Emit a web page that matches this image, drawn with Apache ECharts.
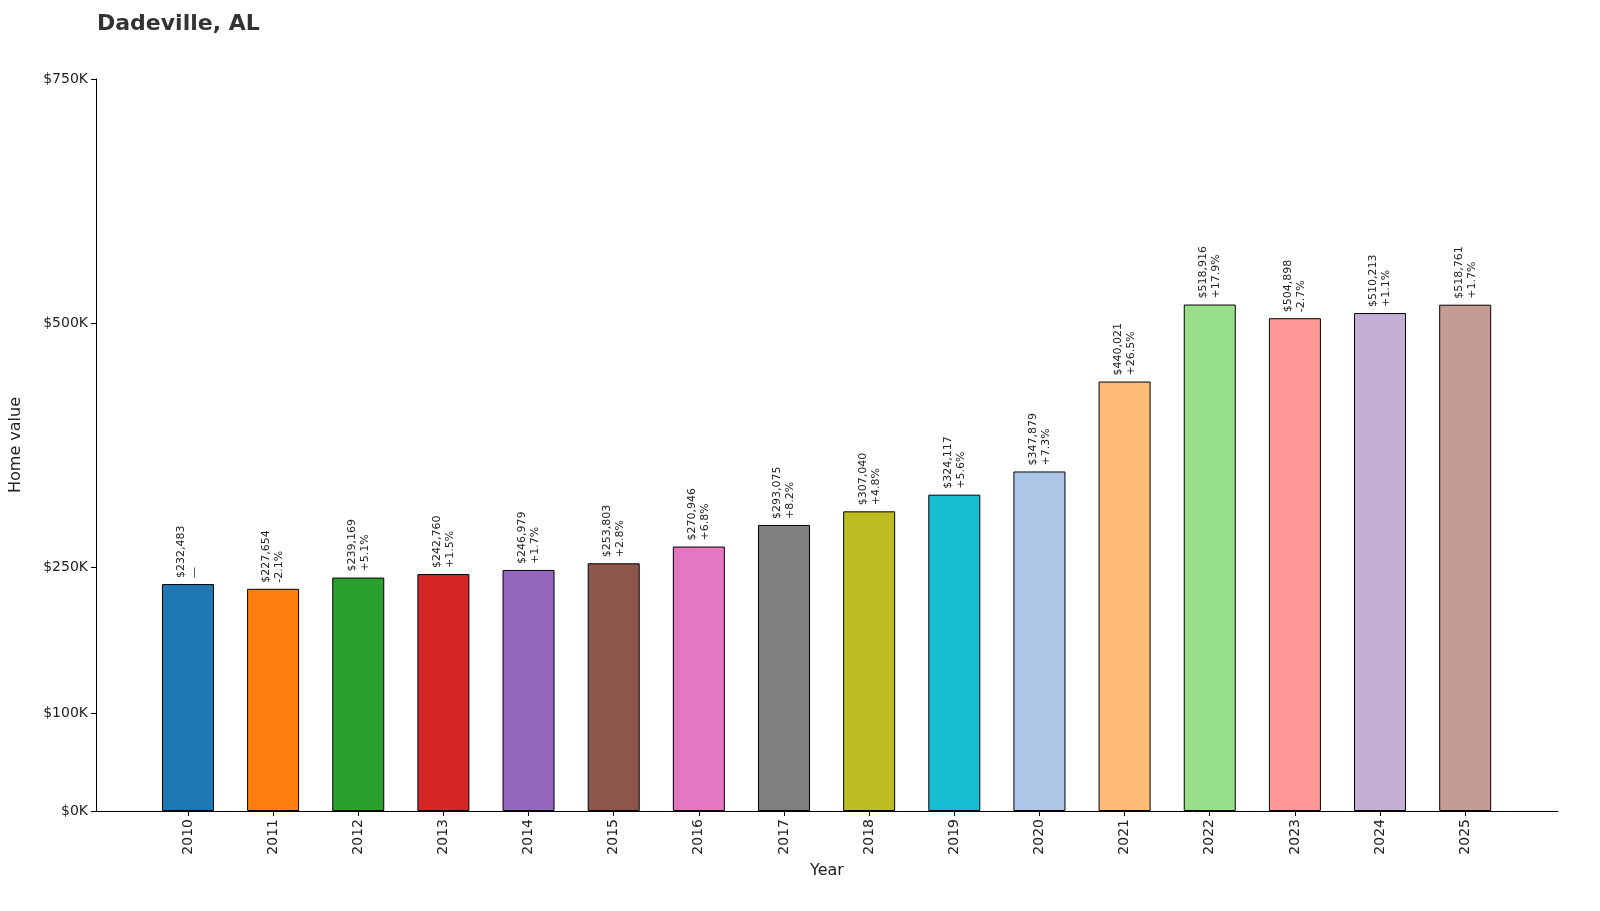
<!DOCTYPE html>
<html><head><meta charset="utf-8">
<script src="https://cdn.jsdelivr.net/npm/echarts@6/dist/echarts.min.js"></script>
<style>html,body{margin:0;padding:0;background:#fff}#c{width:1600px;height:911px}</style>
</head><body><div id="c"></div>
<script>
const years = [2010,2011,2012,2013,2014,2015,2016,2017,2018,2019,2020,2021,2022,2023,2024,2025];
const values = [232483,227654,239169,242760,246979,253803,270946,293075,307040,324117,347879,440021,518916,504898,510213,518761];
const changes = ['—','-2.1%','+5.1%','+1.5%','+1.7%','+2.8%','+6.8%','+8.2%','+4.8%','+5.6%','+7.3%','+26.5%','+17.9%','-2.7%','+1.1%','+1.7%'];
const colors = ['#1f77b4','#ff7f0e','#2ca02c','#d62728','#9467bd','#8c564b','#e377c2','#7f7f7f','#bcbd22','#17becf','#aec7e8','#ffbb78','#98df8a','#ff9896','#c5b0d5','#c49c94'];
const yTicks = [0,100000,250000,500000,750000];
const font = 'DejaVu Sans';
const chart = echarts.init(document.getElementById('c'));
chart.setOption({
  animation:false,
  textStyle:{fontFamily:font},
  title:{text:'Dadeville, AL',left:92,top:8,textStyle:{fontSize:22,fontWeight:'bold',color:'#333',fontFamily:font}},
  grid:{left:92,right:42,top:79,bottom:100},
  xAxis:{type:'value',min:2008.92,max:2026.09,name:'Year',nameLocation:'middle',nameGap:52,
    nameTextStyle:{fontSize:16,color:'#222'},
    axisLine:{lineStyle:{color:'#000'}},splitLine:{show:false},
    axisTick:{customValues:years,length:5,lineStyle:{color:'#000'}},
    axisLabel:{customValues:years,rotate:90,fontSize:14,color:'#222',formatter:v=>String(v)}},
  yAxis:{type:'value',min:0,max:750000,name:'Home value',nameLocation:'middle',nameGap:72,
    nameTextStyle:{fontSize:16,color:'#222'},
    axisLine:{show:true,lineStyle:{color:'#000'}},splitLine:{show:false},
    axisTick:{show:true,customValues:yTicks,length:5,lineStyle:{color:'#000'}},
    axisLabel:{customValues:yTicks,fontSize:14,color:'#222',formatter:v=>'$'+(v/1000)+'K'}},
  series:[{type:'bar',barWidth:52,
    data:years.map((y,i)=>({value:[y,values[i]],itemStyle:{color:colors[i],borderColor:'#000',borderWidth:1}})),
    label:{show:true,position:'top',rotate:90,align:'left',verticalAlign:'middle',distance:6,
      fontSize:11,lineHeight:13,color:'#222',
      formatter:p=>'$'+values[p.dataIndex].toLocaleString('en-US')+'\n'+changes[p.dataIndex]}}]
});
</script></body></html>
